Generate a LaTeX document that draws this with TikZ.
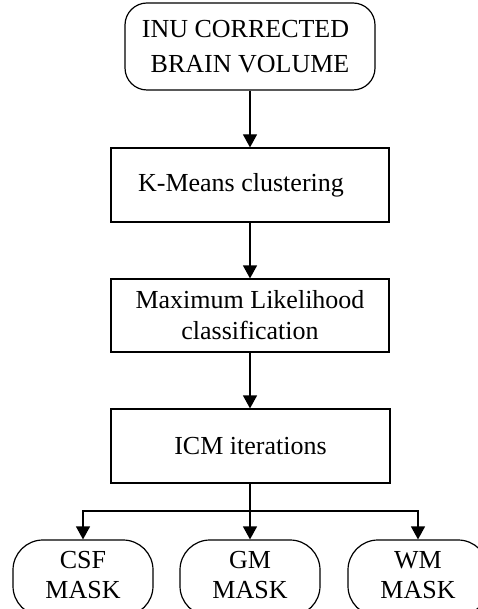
\documentclass[tikz,border=0pt]{standalone}
\usepackage{fontspec}
\setmainfont{Liberation Serif}
\usetikzlibrary{arrows.meta}
\begin{document}
\begin{tikzpicture}[x=1pt,y=-1pt,
  box/.style={draw=black, line width=1.2pt, inner sep=0pt,
    font=\fontsize{26}{31}\selectfont, align=center},
  roundbox/.style={box, rounded corners=22pt},
  maskbox/.style={box, rounded corners=30pt, minimum width=140pt,
    minimum height=76pt, text depth=7pt, font=\fontsize{26}{30}\selectfont},
  flow/.style={draw=black, line width=1.2pt, -{Triangle[length=13pt,width=14pt]}}]
\useasboundingbox (0,0) rectangle (478,609);

% process chain
\node[roundbox, minimum width=250pt, minimum height=87pt,
      font=\fontsize{26}{35}\selectfont] (inu) at (250,46.5)
  {INU CORRECTED\hspace*{9pt}\\BRAIN VOLUME};
\node[box, minimum width=278pt, minimum height=74pt] (km) at (250,185)
  {K-Means clustering\hspace*{18pt}};
\node[box, minimum width=278pt, minimum height=73pt] (ml) at (250,315.5)
  {Maximum Likelihood\\classification};
\node[box, minimum width=279pt, minimum height=74pt] (icm) at (250.5,446)
  {ICM iterations};

% output masks (run off the lower edge)
\begin{scope}
  \clip (0,0) rectangle (478,609);
  \node[maskbox] (csf) at (83,578) {CSF\\MASK};
  \node[maskbox] (gm) at (250,578) {GM\\MASK};
  \node[maskbox] (wm) at (418,578) {WM\\MASK};
\end{scope}

% connectors
\draw[flow] (inu.south -| km.north) -- (km.north);
\draw[flow] (km.south) -- (ml.north);
\draw[flow] (ml.south) -- (ml.south |- icm.north);
\coordinate (split) at (250,511);
\draw[flow] (icm.south -| gm.north) -- (gm.north);
\draw[flow] (split) -| (csf.north);
\draw[flow] (split) -| (wm.north);
\end{tikzpicture}
\end{document}
